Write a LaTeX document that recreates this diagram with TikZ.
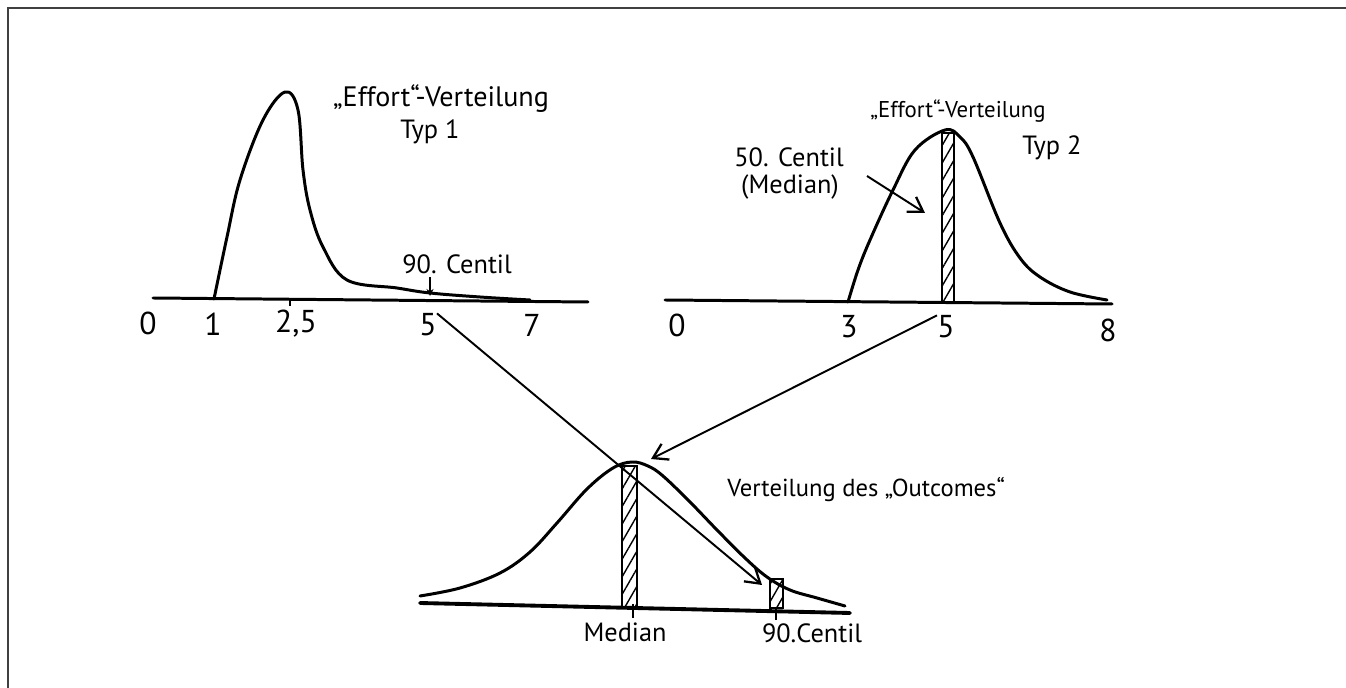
\documentclass[tikz,border=0pt]{standalone}
\usepackage{fontspec}
\setmainfont{PT Sans}
\usetikzlibrary{arrows.meta,patterns.meta}
\begin{document}
\begin{tikzpicture}[x=0.02cm,y=-0.02cm,
  curve/.style={line width=1.7pt, line join=round, line cap=round},
  axis/.style={line width=1.7pt, line cap=round},
  conn/.style={line width=1.1pt, -{Straight Barb[length=8pt,width=10pt,line width=1.3pt]}},
  smallarr/.style={line width=1pt, -{Stealth[length=4pt,width=4pt]}},
  hatch/.style={draw, line width=0.9pt, pattern={Lines[angle=60,distance=5pt,line width=0.8pt]}},
  tick/.style={line width=1.4pt},
  lbl/.style={font=\fontsize{15}{17}\selectfont, inner sep=0pt},
  num/.style={font=\fontsize{18}{20}\selectfont, inner sep=0pt},
]
\useasboundingbox (0,0) rectangle (1346,688);
% frame (top and left edges of the scan)
\draw[line width=1.4pt, black!75] (8,688) -- (8,8) -- (1346,8);

% ---------- left: Effort distribution type 1 ----------
\draw[axis] (153,298) -- (588,302);
\draw[curve] plot[smooth, tension=0.6] coordinates {
  (214,299) (227,237) (240,180) (263,120) (285,92) (298,110) (303,170)
  (310,210) (323,247) (347,280) (397,288) (430,293) (480,297) (530,300)};
\draw[tick] (290,300) -- (290,306);
\node[num] (l0) at (148,323) {0};
\node[num] (l1) at (213,324) {1};
\node[num] (l25) at (296,324) {2,5};
\node[num] (l5) at (428,325) {5};
\node[num] (l7) at (532,325) {7};
\node[lbl, font=\fontsize{16}{18}\selectfont] (t1) at (441,99) {„Effort“-Verteilung};
\node[lbl] (typ1) at (430,132) {Typ 1};
\node[lbl] (c90l) at (457,264) {90. Centil};
\coordinate (p90) at (430,296);
\draw[smallarr] ([yshift=-2pt]c90l.south -| p90) -- (p90);

% ---------- right: Effort distribution type 2 ----------
\draw[axis] (665,300) -- (1112,304);
\draw[hatch] (942,133) rectangle (954,303);
\draw[curve] plot[smooth, tension=0.6] coordinates {
  (848,302) (858,270) (870,240) (893,190) (915,150) (945,130) (960,137)
  (973,157) (1000,223) (1020,258) (1040,277) (1070,292) (1107,300)};
\node[num] (r0) at (677,325) {0};
\node[num] (r3) at (849,327) {3};
\node[num] (r5) at (946,327) {5};
\node[num] (r8) at (1108,330) {8};
\node[lbl, font=\fontsize{13}{15}\selectfont] (t2) at (958,111) {„Effort“-Verteilung};
\node[lbl] (typ2) at (1052,148) {Typ 2};
\node[lbl] (c50) at (789,157) {50. Centil};
\node[lbl] (med50) at (790,187) {(Median)};
\coordinate (a50s) at (867,176);
\coordinate (a50e) at (925,213);
\draw[conn] (a50s) -- (a50e);

% ---------- bottom: outcome distribution ----------
\draw[axis, line width=2.2pt] (420,603) -- (850,613);
\draw[hatch] (622,466) rectangle (637,607);
\draw[hatch] (770,579) rectangle (783,608);
\draw[curve] plot[smooth, tension=0.6] coordinates {
  (420,596) (460,588) (500,573) (530,552) (557,523) (587,489) (613,468)
  (632,462) (648,466) (663,476) (690,502) (717,530) (745,558) (767,577)
  (790,590) (817,598) (845,606)};
\draw[tick] (633,604) -- (633,618);
\draw[tick] (776,608) -- (776,620);
\node[lbl] (med) at (625,632) {Median};
\node[lbl] (c90b) at (812,633) {90.Centil};
\node[lbl, anchor=west, font=\fontsize{14}{16}\selectfont] (tout) at (727,490) {Verteilung des „Outcomes“};

% ---------- connectors ----------
\coordinate (q90) at (762,585);
\coordinate (mtip) at (651,459);
\draw[conn] (l5.north east) -- (q90);
\draw[conn] (r5.north west) -- (mtip);
\end{tikzpicture}
\end{document}
